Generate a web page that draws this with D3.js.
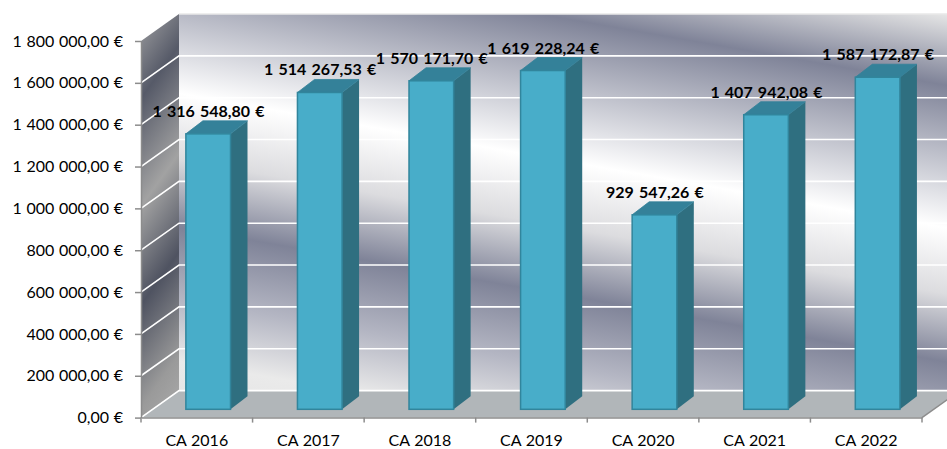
<!DOCTYPE html>
<html>
<head>
<meta charset="utf-8">
<script src="https://cdn.jsdelivr.net/npm/d3@7"></script>
<style>
	body { margin: 0; background: #fff; overflow: hidden; }
	text { font-family: Lato, sans-serif; fill: #000; }
	.axis text { font-size: 16px; word-spacing: 0.6px; }
	.label { font-size: 16px; font-weight: 700; word-spacing: 1.3px; }
</style>
</head>
<body>
<div id="container"></div>
<script>
const categories = ['CA 2016', 'CA 2017', 'CA 2018', 'CA 2019', 'CA 2020', 'CA 2021', 'CA 2022'];
const values = [1316548.80, 1514267.53, 1570171.70, 1619228.24, 929547.26, 1407942.08, 1587172.87];
const yTicks = [0, 200000, 400000, 600000, 800000, 1000000, 1200000, 1400000, 1600000, 1800000];

const width = 947,
	height = 449;

// depth of the fake 3d box, and of one bar
const wallDx = 38, wallDy = 27,
	barDx = 17, barDy = 13;

const locale = d3.formatLocale({ decimal: ',', thousands: ' ', grouping: [3], currency: ['', ''] });
const money = (d) => locale.format(',.2f')(d) + ' €';

const xScale = d3.scaleBand()
	.domain(categories)
	.range([141, 922])
	.paddingInner(0)
	.paddingOuter(0);

const yScale = d3.scaleLinear()
	.domain([0, 1800000])
	.range([417.6, 41]);

const x0 = xScale.range()[0], x1 = xScale.range()[1],
	yBottom = yScale(0), yTop = yScale(1800000);

const svg = d3.select('#container').append('svg')
	.attr('width', width)
	.attr('height', height)
	.style('display', 'block');

const defs = svg.append('defs');

function gradient(id, pos, stops) {
	defs.append('linearGradient')
		.attr('id', id)
		.attr('gradientUnits', 'userSpaceOnUse')
		.attr('x1', pos[0]).attr('y1', pos[1])
		.attr('x2', pos[2]).attr('y2', pos[3])
		.selectAll('stop')
		.data(stops)
		.enter().append('stop')
		.attr('offset', (d) => d[0])
		.attr('stop-color', (d) => d[1]);
}

gradient('backWall', [560, -54, 473, 443], [
	[0, '#e6e6e6'], [0.14, '#7f8398'], [0.418, '#ffffff'], [0.547, '#dcdcdf'],
	[0.68, '#7f8398'], [0.82, '#b4b6c3'], [0.941, '#eaeaea'], [1, '#e6e6e6']
]);
gradient('sideWall', [141, 0, 363, 159], [
	[0, '#aaaaaa'], [0.21, '#565a68'], [0.44, '#a2a2a2'],
	[0.65, '#4f5361'], [0.87, '#9a9a9a'], [1, '#aaaaaa']
]);

const pts = (a) => a.map((p) => p.join(',')).join(' ');

// walls and floor
svg.append('polygon')
	.attr('points', pts([[x0 + wallDx, yTop - wallDy], [x1 + wallDx, yTop - wallDy], [x1 + wallDx, yBottom - wallDy], [x0 + wallDx, yBottom - wallDy]]))
	.attr('fill', 'url(#backWall)');
svg.append('polygon')
	.attr('points', pts([[x0, yTop], [x0 + wallDx, yTop - wallDy], [x0 + wallDx, yBottom - wallDy], [x0, yBottom]]))
	.attr('fill', 'url(#sideWall)');
svg.append('polygon')
	.attr('points', pts([[x0, yBottom], [x0 + wallDx, yBottom - wallDy], [x1 + wallDx, yBottom - wallDy], [x1, yBottom]]))
	.attr('fill', '#b1b6b9');

svg.append('line')
	.attr('x1', x0 + wallDx).attr('x2', x1 + wallDx)
	.attr('y1', yTop - wallDy).attr('y2', yTop - wallDy)
	.attr('stroke', '#e8e8e8').attr('stroke-width', 1.5);

// gridlines run along the side wall then across the back
svg.append('g').selectAll('polyline')
	.data(yTicks)
	.enter().append('polyline')
	.attr('points', (d) => pts([[x0, yScale(d)], [x0 + wallDx, yScale(d) - wallDy], [x1 + wallDx, yScale(d) - wallDy]]))
	.attr('fill', 'none')
	.attr('stroke', '#fff')
	.attr('stroke-opacity', (d) => d === 1800000 ? 0 : 1)
	.attr('stroke-width', 1.6);

svg.append('line')
	.attr('x1', x1).attr('y1', yBottom)
	.attr('x2', x1 + wallDx).attr('y2', yBottom - wallDy)
	.attr('stroke', '#8c8c8c').attr('stroke-width', 1.5);

// bars
const barW = xScale.bandwidth() * 0.4;
const barX = (d) => xScale(d) + xScale.bandwidth() / 2 - barW / 2 + 11.4;
const baseLift = 8.3;
const barY = (v) => yScale(v) - baseLift;

const bar = svg.append('g').selectAll('g')
	.data(categories.map((c, i) => ({ cat: c, value: values[i] })))
	.enter().append('g');

bar.append('polygon')
	.attr('points', (d) => {
		const l = barX(d.cat) + barW, t = barY(d.value), b = barY(0);
		return pts([[l, t], [l + barDx, t - barDy], [l + barDx, b - barDy], [l, b]]);
	})
	.attr('fill', '#2f6f80');

bar.append('polygon')
	.attr('points', (d) => {
		const l = barX(d.cat), t = barY(d.value);
		return pts([[l, t], [l + barDx, t - barDy], [l + barW + barDx, t - barDy], [l + barW, t]]);
	})
	.attr('fill', '#348199')
	.attr('stroke', '#348199')
	.attr('stroke-width', 0.8);

bar.append('rect')
	.attr('x', (d) => barX(d.cat))
	.attr('y', (d) => barY(d.value))
	.attr('width', barW)
	.attr('height', (d) => barY(0) - barY(d.value))
	.attr('fill', '#48adc9')
	.attr('stroke', '#31859c')
	.attr('stroke-width', 1.5);

bar.append('text')
	.attr('class', 'label')
	.attr('x', (d) => barX(d.cat) + barW / 2 + 0.4)
	.attr('y', (d) => barY(d.value) - barDy - 4)
	.attr('text-anchor', 'middle')
	.text((d) => money(d.value));

// axes
const yAxis = svg.append('g')
	.attr('class', 'axis')
	.attr('transform', `translate(${x0},0)`)
	.call(d3.axisLeft(yScale).tickValues(yTicks).tickFormat(money).tickSize(6).tickPadding(12).tickSizeOuter(0));

const xAxis = svg.append('g')
	.attr('class', 'axis')
	.attr('transform', `translate(0,${yBottom})`)
	.call(d3.axisBottom(xScale).tickSize(0).tickPadding(17));

xAxis.selectAll('.tick line').remove();
xAxis.selectAll('.edge')
	.data(d3.range(categories.length + 1))
	.enter().append('line')
	.attr('x1', (i) => x0 + i * xScale.step())
	.attr('x2', (i) => x0 + i * xScale.step())
	.attr('y1', 0).attr('y2', 5)
	.attr('stroke', '#8c8c8c').attr('stroke-width', 1.5);

svg.selectAll('.axis .domain').attr('stroke', '#8c8c8c').attr('stroke-width', 1.5);
yAxis.selectAll('.tick line').attr('stroke', '#8c8c8c').attr('stroke-width', 1.5);
svg.selectAll('.axis text').attr('fill', '#000');
</script>
</body>
</html>
